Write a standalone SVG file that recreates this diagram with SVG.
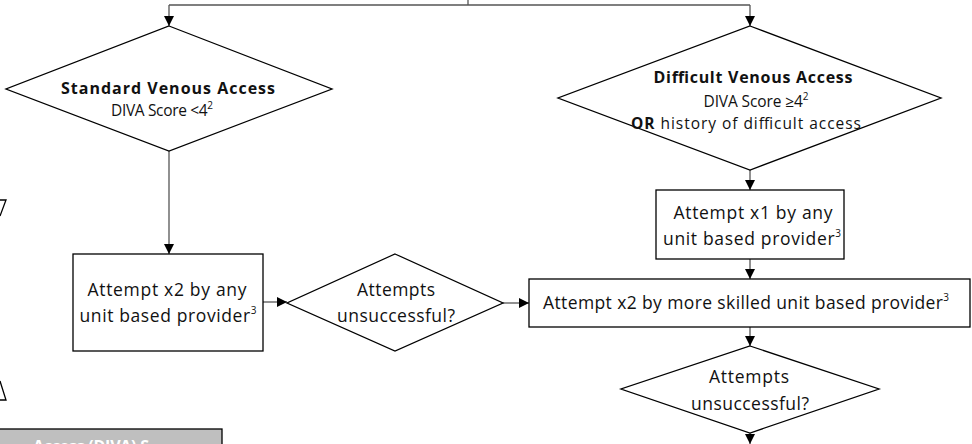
<svg xmlns="http://www.w3.org/2000/svg" width="972" height="444" viewBox="0 0 972 444">
<style>
.shape{fill:#fff;stroke:#000;stroke-width:1.3}
.conn{fill:none;stroke:#555;stroke-width:1.3}
text{font-family:"Open Sans",Lato,"Liberation Sans",sans-serif;fill:#111;text-anchor:middle}
.t{font-size:17.5px}
.b{font-size:16px;font-weight:bold}
.s{font-size:15.5px}
.sup{font-size:10px}
</style>
<defs>
<marker id="ah" markerUnits="userSpaceOnUse" markerWidth="10" markerHeight="10" refX="10" refY="5" orient="auto">
<path d="M0,0 L10,5 L0,10 z" fill="#000"/>
</marker>
</defs>
<rect width="972" height="444" fill="#fff"/>
<g id="fragments">
<path d="M0,200 L6,200 L0,216" fill="none" stroke="#000" stroke-width="1.3"/>
<path d="M0,381 L6,400 L0,400" fill="none" stroke="#000" stroke-width="1.3"/>
</g>
<g id="legend">
<rect x="-1" y="429" width="223" height="20" fill="#BFBFBF" stroke="#000" stroke-width="1.3"/>
<text x="33" y="452" textLength="116" style="text-anchor:start;font-size:16px;font-weight:bold;fill:#fff">Access (DIVA) S</text>
</g>
<g id="connectors">
<path class="conn" d="M468,0 V5"/>
<path class="conn" d="M169,5 H750"/>
<path class="conn" d="M169,5 V26" marker-end="url(#ah)"/>
<path class="conn" d="M750,5 V26" marker-end="url(#ah)"/>
<path class="conn" d="M169,151 V254" marker-end="url(#ah)"/>
<path class="conn" d="M263,302 H287" marker-end="url(#ah)"/>
<path class="conn" d="M503,303 H529" marker-end="url(#ah)"/>
<path class="conn" d="M750,170 V190" marker-end="url(#ah)"/>
<path class="conn" d="M750,259 V279" marker-end="url(#ah)"/>
<path class="conn" d="M750,327 V346" marker-end="url(#ah)"/>
<path class="conn" d="M750,433 V444" marker-end="url(#ah)"/>
</g>
<g id="standard">
<polygon class="shape" points="169,26 332,89 169,151 6,89"/>
<text class="b" x="168" y="94" textLength="214">Standard Venous Access</text>
<text class="s" x="162" y="116" textLength="102">DIVA Score &lt;4<tspan class="sup" dy="-7">2</tspan></text>
</g>
<g id="difficult">
<polygon class="shape" points="750,26 941,98 750,170 558,98"/>
<text class="b" x="753" y="83" textLength="199">Difficult Venous Access</text>
<text class="s" x="756" y="107" textLength="105">DIVA Score ≥4<tspan class="sup" dy="-7">2</tspan></text>
<text class="s" x="746" y="129" textLength="230"><tspan font-weight="bold">OR</tspan> history of difficult access</text>
</g>
<g id="attempt-x2-any">
<rect class="shape" x="73" y="254" width="190" height="97"/>
<text class="t" x="167" y="296" textLength="159">Attempt x2 by any</text>
<text class="t" x="168" y="322" textLength="177">unit based provider<tspan class="sup" dy="-8">3</tspan></text>
</g>
<g id="unsuccessful-1">
<polygon class="shape" points="395,254 503,303 395,351 287,303"/>
<text class="t" x="396" y="296" textLength="78">Attempts</text>
<text class="t" x="396" y="322" textLength="118">unsuccessful?</text>
</g>
<g id="attempt-x1">
<rect class="shape" x="656" y="190" width="188" height="69"/>
<text class="t" x="753" y="219" textLength="159">Attempt x1 by any</text>
<text class="t" x="752" y="245" textLength="178">unit based provider<tspan class="sup" dy="-8">3</tspan></text>
</g>
<g id="attempt-x2-skilled">
<rect class="shape" x="529" y="279" width="441" height="48"/>
<text class="t" x="746" y="309" textLength="406">Attempt x2 by more skilled unit based provider<tspan class="sup" dy="-8">3</tspan></text>
</g>
<g id="unsuccessful-2">
<polygon class="shape" points="750,346 879,389 750,433 621,389"/>
<text class="t" x="749" y="383" textLength="80">Attempts</text>
<text class="t" x="750" y="410" textLength="118">unsuccessful?</text>
</g>
</svg>
